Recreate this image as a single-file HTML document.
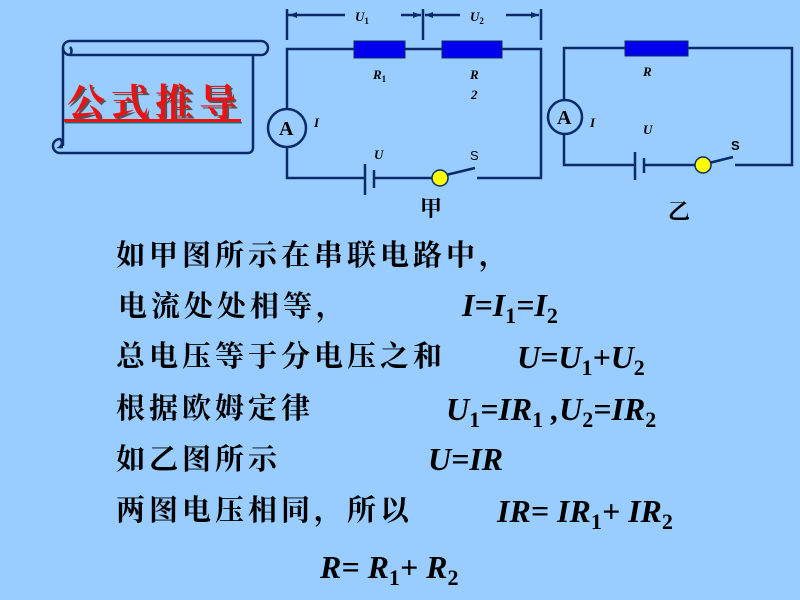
<!DOCTYPE html>
<html><head><meta charset="utf-8"><style>
html,body{margin:0;padding:0;background:#99CCFF;}
svg{display:block}
.cn{font-family:"Liberation Serif","Noto Serif CJK SC","Noto Sans CJK SC",serif;font-size:29px;font-weight:bold;fill:#000;letter-spacing:4px}
.f{font-family:"Liberation Serif",serif;font-style:italic;font-weight:bold;font-size:32px;fill:#000}
.s{font-size:22px;font-style:normal}
.l{font-family:"Liberation Serif",serif;font-style:italic;font-weight:bold;font-size:13px;fill:#000}
</style></head><body>
<svg width="800" height="600" viewBox="0 0 800 600" xmlns="http://www.w3.org/2000/svg">
<rect width="800" height="600" fill="#99CCFF"/>
<!-- scroll -->
<g fill="none" stroke="#0a2a6a" stroke-width="2.5">
<path d="M70 41 H261 A7 7 0 0 1 261 55 H70 A7 7 0 0 1 70 41 Z"/>
<path d="M70 55 A6 6 0 0 0 70 47 M63 48 V146"/>
<path d="M253 55 V148 A5 5 0 0 1 248 153 H60 A7 7 0 0 1 60 139 A5 5 0 0 1 60 147 H63"/>
</g>
<text x="69" y="118" font-family="'Noto Serif CJK SC','Noto Sans CJK SC',serif" font-size="38" font-weight="bold" fill="#555" letter-spacing="6">公式推导</text>
<text x="67" y="116" font-family="'Noto Serif CJK SC','Noto Sans CJK SC',serif" font-size="38" font-weight="bold" fill="#ee1111" letter-spacing="6">公式推导</text>
<rect x="64" y="119" width="177" height="3" fill="#ee1111"/>
<rect x="65" y="122" width="177" height="1.5" fill="#2a6a6a"/>
<!-- circuit 甲 -->
<g stroke="#0a2a6a" stroke-width="2.5" fill="none">
<path d="M287 9 V40 M423 9 V40 M541 9 V40"/>
<path d="M287 15 H345 M401 15 H421 M425 15 H460 M506 15 H539"/>
<path d="M287 109 V49 H354 M405 49 H442 M502 49 H541 V178 H477"/>
<path d="M287 147 V178 H365 M374 178 H432"/>
<path d="M365 164 V195 M374 170 V188"/>
<path d="M446 175 L475 168"/>
<circle cx="287" cy="128" r="19"/>
</g>
<path d="M289 15 l8 -3 v6 z M421 15 l-8 -3 v6 z M425 15 l8 -3 v6 z M539 15 l-8 -3 v6z" fill="#0a2a6a"/>
<rect x="354" y="41" width="51" height="17" fill="#0000ee" stroke="#0a2a6a" stroke-width="1"/>
<rect x="442" y="41" width="60" height="17" fill="#0000ee" stroke="#0a2a6a" stroke-width="1"/>
<circle cx="440" cy="178" r="8" fill="#ffff00" stroke="#0a2a6a" stroke-width="1.5"/>
<text x="279" y="135" font-family="Liberation Serif" font-weight="bold" font-size="20">A</text>
<text x="355" y="21" class="l">U<tspan font-size="9" dy="3" font-style="normal">1</tspan></text>
<text x="470" y="21" class="l">U<tspan font-size="9" dy="3" font-style="normal">2</tspan></text>
<text x="373" y="79" class="l">R<tspan font-size="9" dy="3" font-style="normal">1</tspan></text>
<text x="470" y="79" class="l">R</text>
<text x="471" y="99" class="l" font-size="9" font-style="normal">2</text>
<text x="314" y="127" class="l">I</text>
<text x="374" y="159" class="l">U</text>
<text x="470" y="160" font-family="Liberation Sans" font-size="13" fill="#000">S</text>
<text x="420" y="216" font-family="'Noto Serif CJK SC',serif" font-size="22" font-weight="bold">甲</text>
<!-- circuit 乙 -->
<g stroke="#0a2a6a" stroke-width="2.5" fill="none">
<path d="M564 100 V48 H625 M688 48 H792 V165 H735"/>
<path d="M564 134 V165 H635 M644 165 H695"/>
<path d="M635 152 V180 M644 158 V173"/>
<path d="M709 163 L733 157"/>
<circle cx="565" cy="117" r="17"/>
</g>
<rect x="625" y="41" width="63" height="15" fill="#0000ee" stroke="#0a2a6a" stroke-width="1"/>
<circle cx="703" cy="165" r="8" fill="#ffff00" stroke="#0a2a6a" stroke-width="1.5"/>
<text x="557" y="124" font-family="Liberation Serif" font-weight="bold" font-size="20">A</text>
<text x="643" y="76" class="l">R</text>
<text x="590" y="127" class="l">I</text>
<text x="643" y="134" class="l">U</text>
<text x="731" y="150" font-family="Liberation Sans" font-weight="bold" font-size="13" fill="#000">S</text>
<text x="668" y="219" font-family="'Noto Serif CJK SC',serif" font-size="22" font-weight="bold">乙</text>
<!-- text -->
<text x="116" y="265" class="cn">如甲图所示在串联电路中，</text>
<text x="118" y="316" class="cn">电流处处相等，</text>
<text x="116" y="366" class="cn">总电压等于分电压之和</text>
<text x="116" y="418" class="cn">根据欧姆定律</text>
<text x="116" y="469" class="cn">如乙图所示</text>
<text x="116" y="520" class="cn">两图电压相同，所以</text>
<text x="462" y="316" class="f">I=I<tspan class="s" dy="7">1</tspan><tspan dy="-7">=I</tspan><tspan class="s" dy="7">2</tspan></text>
<text x="517" y="368" class="f">U=U<tspan class="s" dy="7">1</tspan><tspan dy="-7">+U</tspan><tspan class="s" dy="7">2</tspan></text>
<text x="446" y="420" class="f">U<tspan class="s" dy="7">1</tspan><tspan dy="-7">=IR</tspan><tspan class="s" dy="7">1</tspan><tspan dy="-7"> ,U</tspan><tspan class="s" dy="7">2</tspan><tspan dy="-7">=IR</tspan><tspan class="s" dy="7">2</tspan></text>
<text x="428" y="470" class="f">U=IR</text>
<text x="497" y="522" class="f">IR= IR<tspan class="s" dy="7">1</tspan><tspan dy="-7">+ IR</tspan><tspan class="s" dy="7">2</tspan></text>
<text x="320" y="578" class="f" font-size="34">R= R<tspan class="s" dy="7">1</tspan><tspan dy="-7">+ R</tspan><tspan class="s" dy="7">2</tspan></text>
</svg>
</body></html>
